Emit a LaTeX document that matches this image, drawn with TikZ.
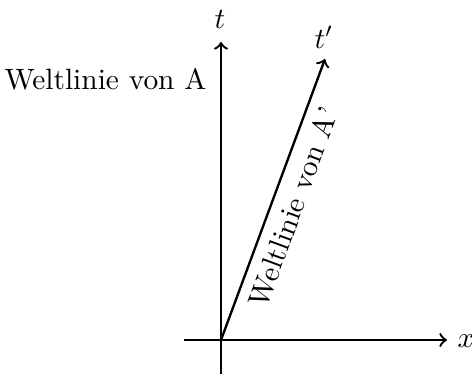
\documentclass[tikz,border=0pt]{standalone}
\begin{document}
\begin{tikzpicture}[x=0.34pt,y=-0.34pt,
  axis/.style={thick,->},
  lbl/.style={inner sep=0pt}]
\useasboundingbox (0,0) rectangle (472,374);
\coordinate (O) at (221,340);
\coordinate (xl) at (184,340);
\coordinate (xr) at (447,340);
\coordinate (tb) at (221,375);
\coordinate (tt) at (221,42);
\coordinate (tp) at (325,59);
\draw[axis] (xl) -- (xr);
\draw[axis] (tb) -- (tt);
\draw[axis] (O) -- (tp) node[midway,below,sloped] (wa) {Weltlinie von A'};
\node[lbl] (lt) at (220,19) {$t$};
\node[lbl] (ltp) at (324,37) {$t'$};
\node[lbl] (lx) at (466,341) {$x$};
\node[lbl,anchor=east] (wl) at (207,79) {Weltlinie von A};
\end{tikzpicture}
\end{document}
